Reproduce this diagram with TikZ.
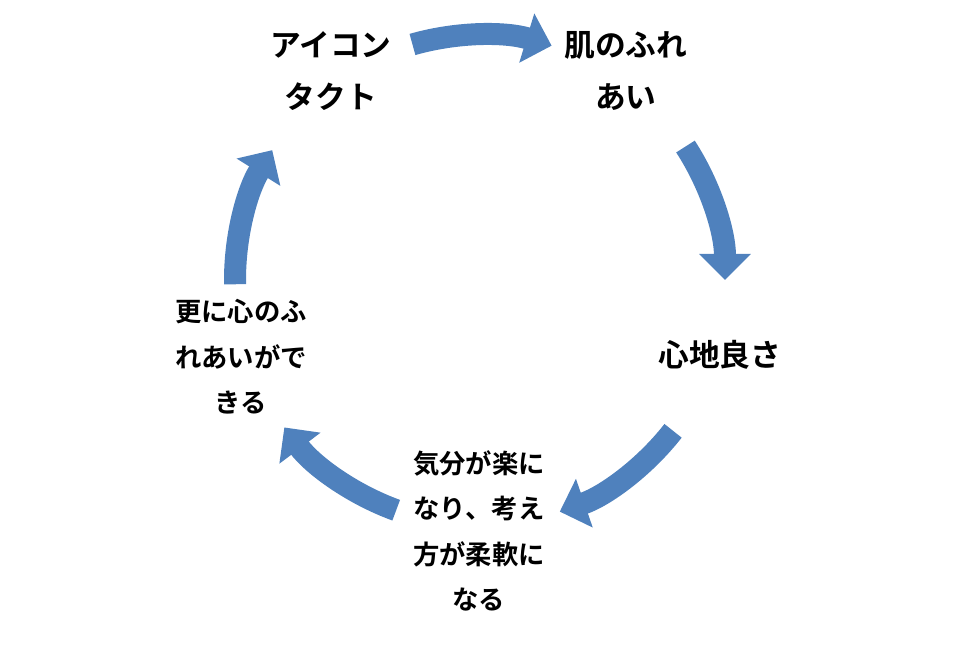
\documentclass[tikz,border=0pt]{standalone}
\usepackage{fontspec}
\setmainfont{Noto Sans CJK JP}[BoldFont={Noto Sans CJK JP Bold}]
\usepackage{tikz}
\usetikzlibrary{arrows.meta}
\usetikzlibrary{calc}
\definecolor{cycleblue}{RGB}{79,129,189}

\begin{document}
\begin{tikzpicture}[
        label_style/.style={inner sep=0pt, align=center, font=\fontsize{8.75}{15}\selectfont\bfseries},
        small_label_style/.style={inner sep=0pt, align=center, font=\fontsize{7.5}{12.9}\selectfont\bfseries},
        arrow_style/.style={draw=cycleblue, line width=0.22cm, line cap=butt,
            -{Triangle[width=0.5cm, length=0.26cm]}}]

        \useasboundingbox (0,0) rectangle (9.6,6.56);

        \coordinate (c) at (4.80,3.76);

        \node [label_style](n1) at (3.31,5.85) {アイコン\\タクト};

        \node [label_style](n2) at (6.26,5.85) {肌のふれ\\あい};

        \node [label_style](n3) at (7.20,3.01) {心地良さ};

        \node [small_label_style](n4) at (4.79,1.25) {気分が楽に\\なり、考え\\方が柔軟に\\なる};

        \node [small_label_style](n5) at (2.41,2.99) {更に心のふ\\れあいがで\\きる};

        \draw [arrow_style] ($(c)+(106:2.45)$) arc [start angle=106, end angle=73, radius=2.45];

        \draw [arrow_style] ($(c)+(33:2.45)$) arc [start angle=33, end angle=0, radius=2.45];

        \draw [arrow_style] ($(c)+(-38:2.45)$) arc [start angle=-38, end angle=-71, radius=2.45];

        \draw [arrow_style] ($(c)+(-110:2.45)$) arc [start angle=-110, end angle=-143, radius=2.45];

        \draw [arrow_style] ($(c)+(181:2.45)$) arc [start angle=181, end angle=148, radius=2.45];

        \end{tikzpicture}
\end{document}
